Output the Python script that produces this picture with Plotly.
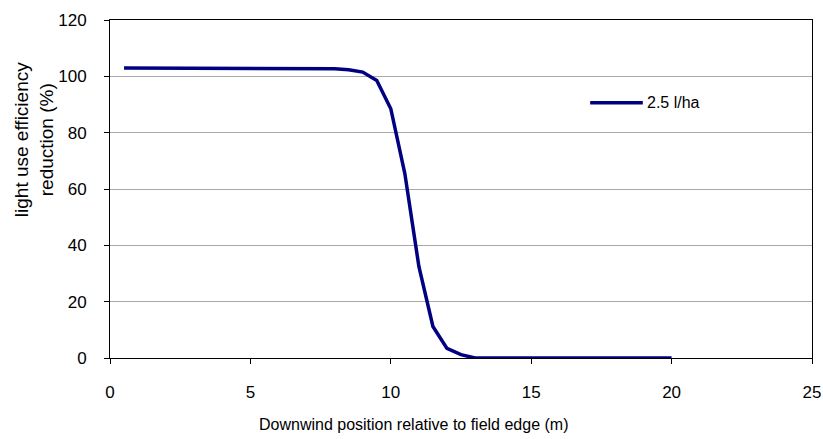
import plotly.graph_objects as go

# Downwind distance (m) and light-use-efficiency reduction (%)
distance = [0.5, 1, 1.5, 2, 2.5, 3, 3.5, 4, 4.5, 5, 5.5, 6, 6.5, 7, 7.5,
            8, 8.5, 9, 9.5, 10, 10.5, 11, 11.5, 12, 12.5, 13,
            13.5, 14, 14.5, 15, 15.5, 16, 16.5, 17, 17.5, 18, 18.5, 19, 19.5, 20]
reduction = [103, 103, 103, 103, 103, 103, 103, 103, 103, 103, 103, 103, 103, 103, 103,
             102.7, 102.3, 101.5, 98.5, 88.5, 65.5, 32.5, 11.2, 3.4, 1.2, 0,
             0, 0, 0, 0, 0, 0, 0, 0, 0, 0, 0, 0, 0, 0]
series_name = "2.5 l/ha"
x_title = "Downwind position relative to field edge (m)"
y_title = "light use efficiency<br>reduction (%)"

x_ticks = [0, 5, 10, 15, 20, 25]
y_ticks = [0, 20, 40, 60, 80, 100, 120]

line_color = "#000080"
font_family = "Liberation Sans, Arial, sans-serif"

fig = go.Figure()
fig.add_trace(go.Scatter(
    x=distance, y=reduction, mode="lines", name=series_name,
    line=dict(color=line_color, width=3.5), showlegend=False,
))

# Legend key drawn as a short line plus label
fig.add_shape(type="line", xref="paper", yref="paper",
              x0=0.684, x1=0.759, y0=0.755, y1=0.755,
              line=dict(color=line_color, width=3.5))
fig.add_annotation(xref="paper", yref="paper", x=0.762, y=0.757,
                   text=series_name, showarrow=False, xanchor="left",
                   yanchor="middle", font=dict(size=16, color="black", family=font_family))

# Axis titles as free text
fig.add_annotation(xref="paper", yref="paper", x=0.433, y=-0.198,
                   text=x_title, showarrow=False, xanchor="center",
                   yanchor="middle", font=dict(size=16, color="black", family=font_family))
fig.add_annotation(xref="paper", yref="paper", x=-0.108, y=0.645,
                   text=y_title, showarrow=False, textangle=-90,
                   xanchor="center", yanchor="middle",
                   font=dict(size=19, color="black", family=font_family))

fig.update_layout(
    width=823, height=439,
    margin=dict(l=110, r=11, t=20, b=81),
    paper_bgcolor="white", plot_bgcolor="white",
    font=dict(family=font_family, color="black", size=17),
    xaxis=dict(
        range=[0, 25], tickvals=x_ticks, ticks="outside", ticklen=5,
        tickcolor="black", showline=True, linecolor="black", linewidth=1,
        mirror=True, showgrid=False, zeroline=False, automargin=False,
        ticklabelstandoff=14,
    ),
    yaxis=dict(
        range=[0, 120], tickvals=y_ticks, ticks="outside", ticklen=5,
        tickcolor="black", showline=True, linecolor="black", linewidth=1,
        mirror=True, showgrid=True, gridcolor="#a8a8a8", gridwidth=1,
        zeroline=False, automargin=False, ticklabelstandoff=14,
    ),
)

fig.write_html("out.html")
